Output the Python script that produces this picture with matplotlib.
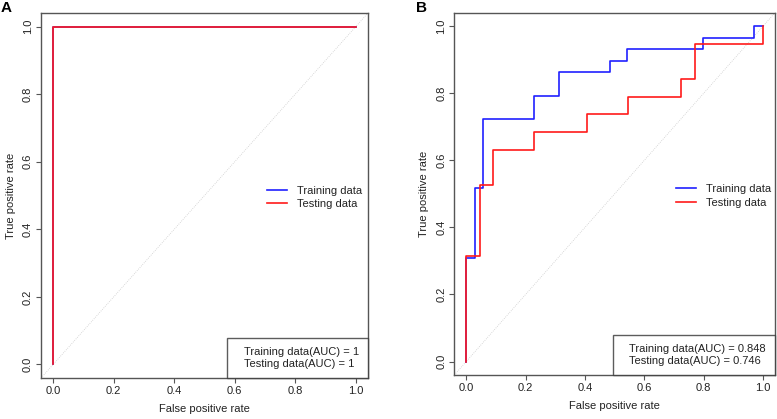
import matplotlib
matplotlib.use("Agg")
import matplotlib.pyplot as plt
from matplotlib.lines import Line2D

plt.rcParams['font.family'] = ['Liberation Sans', 'DejaVu Sans']

# Panel A: perfect classifier for both sets
fpr_train_a = [0.0, 0.0, 1.0]
tpr_train_a = [0.0, 1.0, 1.0]
fpr_test_a = [0.0, 0.0, 1.0]
tpr_test_a = [0.0, 1.0, 1.0]
auc_a = ["1", "1"]

# Panel B: step ROC curves
fpr_train_b = [0.0, 0.0, 0.029, 0.029, 0.057, 0.057, 0.229, 0.229, 0.313, 0.313,
               0.485, 0.485, 0.543, 0.543, 0.799, 0.799, 0.969, 0.969, 1.0]
tpr_train_b = [0.0, 0.31, 0.31, 0.518, 0.518, 0.724, 0.724, 0.793, 0.793, 0.863,
               0.863, 0.897, 0.897, 0.932, 0.932, 0.966, 0.966, 1.0, 1.0]
fpr_test_b = [0.0, 0.0, 0.046, 0.046, 0.091, 0.091, 0.227, 0.227, 0.408, 0.408,
              0.545, 0.545, 0.725, 0.725, 0.771, 0.771, 1.0, 1.0]
tpr_test_b = [0.0, 0.314, 0.314, 0.527, 0.527, 0.631, 0.631, 0.685, 0.685, 0.737,
              0.737, 0.790, 0.790, 0.842, 0.842, 0.948, 0.948, 1.0]
auc_b = ["0.848", "0.746"]

ticks = [0.0, 0.2, 0.4, 0.6, 0.8, 1.0]
frame_col = "#555555"
txt_col = "#222222"
fs = 8

fig = plt.figure(figsize=(7.77, 4.19), dpi=100)
ax_a = fig.add_axes([0.0528, 0.0979, 0.4208, 0.8711])
ax_b = fig.add_axes([0.5847, 0.105, 0.4127, 0.8647])


def roc_panel(ax, fpr_tr, tpr_tr, fpr_te, tpr_te, auc):
    ax.axline((0, 0), (1, 1), color="#cccccc", lw=0.6, ls=(0, (1, 1.5)))
    ax.plot(fpr_tr, tpr_tr, color="#2020ff", lw=1.2, label="Training data")
    ax.plot(fpr_te, tpr_te, color="#ff1a1a", lw=1.2, label="Testing data")
    ax.set_xlim(-0.04, 1.04)
    ax.set_ylim(-0.04, 1.04)
    ax.set_xticks(ticks)
    ax.set_yticks(ticks)
    ax.set_xticklabels([f"{t:.1f}" for t in ticks])
    ax.set_yticklabels([f"{t:.1f}" for t in ticks], rotation=90, va="center")
    ax.tick_params(length=3.6, width=0.8, color=frame_col, labelsize=fs, pad=2.2,
                   labelcolor=txt_col)
    for s in ax.spines.values():
        s.set_color(frame_col)
        s.set_linewidth(1.0)
    ax.set_xlabel("False positive rate", fontsize=fs, color=txt_col, labelpad=6)
    ax.set_ylabel("True positive rate", fontsize=fs, color=txt_col, labelpad=5)

    leg1 = ax.legend(loc="center left", bbox_to_anchor=(0.69, 0.494), frameon=False,
                     fontsize=fs, handlelength=1.8, handletextpad=0.9,
                     labelspacing=0.3, borderpad=0, borderaxespad=0)
    for t in leg1.get_texts():
        t.set_color(txt_col)
    ax.add_artist(leg1)

    blank = [Line2D([], [], color="none"), Line2D([], [], color="none")]
    leg2 = ax.legend(blank, [f"Training data(AUC) = {auc[0]}",
                             f"Testing data(AUC) = {auc[1]}"],
                     loc="lower right", frameon=True, fancybox=False, fontsize=fs,
                     handlelength=0.4, handletextpad=0.3, labelspacing=0.2,
                     borderpad=0.8, borderaxespad=0)
    leg2.get_frame().set_edgecolor("#333333")
    leg2.get_frame().set_linewidth(1.0)
    for t in leg2.get_texts():
        t.set_color(txt_col)


roc_panel(ax_a, fpr_train_a, tpr_train_a, fpr_test_a, tpr_test_a, auc_a)
roc_panel(ax_b, fpr_train_b, tpr_train_b, fpr_test_b, tpr_test_b, auc_b)

fig.text(0.001, 0.997, "A", fontsize=11, fontweight="bold", ha="left", va="top")
fig.text(0.535, 0.997, "B", fontsize=11, fontweight="bold", ha="left", va="top")

fig.savefig("out.png", dpi=100)
